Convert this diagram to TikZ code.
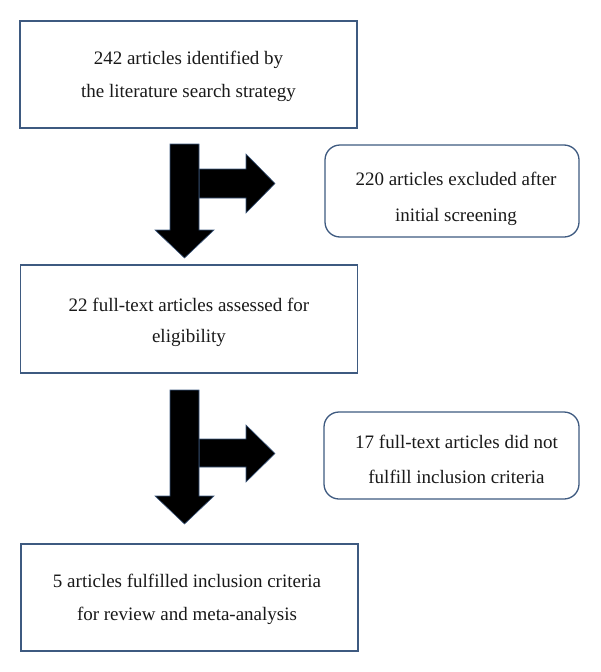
\documentclass[tikz,border=0pt]{standalone}
\usepackage{fontspec}
\setmainfont{Liberation Serif}
\definecolor{edge}{HTML}{3E5A80}
\tikzset{
  box/.style={draw=edge, line width=1.3pt, fill=white, inner sep=0pt},
  exbox/.style={box, rounded corners=15pt},
  txt/.style={anchor=base, inner sep=0pt, font=\fontsize{19}{23}\selectfont, text=black!90},
  blockarrow/.style={fill=black, draw=edge, line width=0.6pt, line join=miter},
}
\begin{document}
\begin{tikzpicture}[x=1pt,y=-1pt]
\useasboundingbox (0,0) rectangle (600,672);
% boxes
\node[box, minimum width=337pt, minimum height=107pt] (b1) at (188.5,74.5) {};
\node[exbox, minimum width=254pt, minimum height=92pt] (e1) at (452,191) {};
\node[box, minimum width=337pt, minimum height=108pt] (b2) at (189,319) {};
\node[exbox, minimum width=255pt, minimum height=87pt] (e2) at (451.5,455.5) {};
\node[box, minimum width=337pt, minimum height=107pt] (b3) at (189.5,597.5) {};
% texts
\node[txt] (b1a) at (188.5,64) {242 articles identified by};
\node[txt] (b1b) at (188.5,97) {the literature search strategy};
\node[txt] (e1a) at (456,185) {220 articles excluded after};
\node[txt] (e1b) at (456,221) {initial screening};
\node[txt] (b2a) at (189,311) {22 full-text articles assessed for};
\node[txt] (b2b) at (189,342) {eligibility};
\node[txt] (e2a) at (456.5,448) {17 full-text articles did not};
\node[txt] (e2b) at (456.5,483) {fulfill inclusion criteria};
\node[txt] (b3a) at (187,587) {5 articles fulfilled inclusion criteria};
\node[txt] (b3b) at (187,620) {for review and meta-analysis};
% block arrows 1
\draw[blockarrow] (199,169) -- (246,169) -- (246,154) -- (275,183.5) -- (246,213) -- (246,198) -- (199,198) -- cycle;
\draw[blockarrow] (170,144) -- (199,144) -- (199,230) -- (214,230) -- (184.5,258) -- (155,230) -- (170,230) -- cycle;
% block arrows 2
\draw[blockarrow] (199,439) -- (246,439) -- (246,425) -- (275,453.5) -- (246,482) -- (246,467) -- (199,467) -- cycle;
\draw[blockarrow] (170,390) -- (199,390) -- (199,496) -- (214,496) -- (184.5,524) -- (155,496) -- (170,496) -- cycle;
\end{tikzpicture}
\end{document}
